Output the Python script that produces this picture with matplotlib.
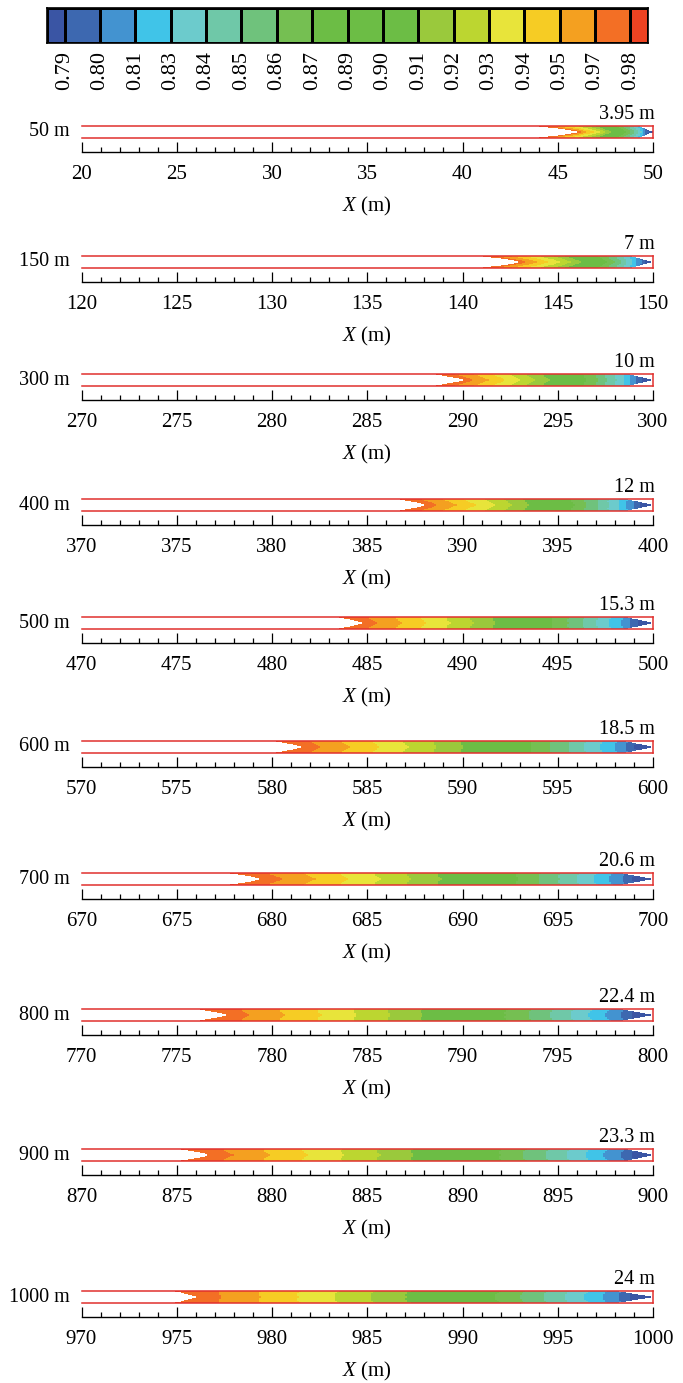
import numpy as np
import matplotlib
matplotlib.use("Agg")
import matplotlib.pyplot as plt
from matplotlib.colors import ListedColormap, BoundaryNorm
from matplotlib.ticker import MultipleLocator

plt.rcParams['font.family'] = ['Liberation Serif', 'DejaVu Serif']
plt.rcParams['mathtext.fontset'] = 'custom'
plt.rcParams['mathtext.rm'] = 'Liberation Serif'
plt.rcParams['mathtext.it'] = 'Liberation Serif:italic'

W, H = 683, 1383

# contour legend
level_labels = ["0.79", "0.80", "0.81", "0.83", "0.84", "0.85", "0.86", "0.87", "0.89",
                "0.90", "0.91", "0.92", "0.93", "0.94", "0.95", "0.97", "0.98"]
level_colors = ["#3a55a4", "#3d68b0", "#4393d0", "#40c4e8", "#6ccbcc", "#6fc8a8",
                "#6fc27c", "#75bf52", "#6cbd45", "#6cbd45", "#6cbd45", "#9ac93c",
                "#bcd630", "#e8e43a", "#f6cc24", "#f4a020", "#f36f25", "#ee4322"]
levels = np.linspace(0.79, 0.98, len(level_labels))

# runs: well depth, front length from the bottom, how far the front leads
# along the walls and the length of the tapered tip at the bottom
depths = [50, 150, 300, 400, 500, 600, 700, 800, 900, 1000]
front_len = [3.95, 7, 10, 12, 15.3, 18.5, 20.6, 22.4, 23.3, 24]
wall_lead = [2.3, 2.2, 1.6, 1.5, 1.3, 1.5, 1.8, 1.6, 1.7, 1.2]
tip_len = [0.8, 1.2, 1.4, 1.5, 1.5, 1.6, 1.8, 1.8, 1.5, 2.0]
window = 30

# vertical centre of each channel strip (pixels from the top)
centers_px = [132, 262, 380, 505, 623, 747, 879, 1015, 1155, 1297]

cmap = ListedColormap(level_colors[1:-1])
cmap.set_under(level_colors[0])
cmap.set_over(level_colors[-1])
norm = BoundaryNorm(levels, cmap.N)


def field(xc, eta, depth, length, lead, tip):
    front = depth - length - lead * np.abs(eta) ** 1.4
    s = np.clip((xc - front) / (depth - front), 0, 1)
    v = 0.982 - 0.14 * s - 0.06 * s ** 4 - 0.006 * (1 - eta ** 2)
    dist = depth - xc
    inside = xc >= front
    taper = np.where(dist < tip, dist / tip, 1.0)
    inside &= np.abs(eta) <= taper + 0.04
    v = np.where(dist < tip, v - 0.012 * (1 - dist / tip), v)
    return np.ma.masked_where(~inside, v)


fig = plt.figure(figsize=(W / 100, H / 100), dpi=100)

# colour legend strip
cax = fig.add_axes([47 / W, 1 - 43 / H, 601 / W, 35 / H])
edges = np.concatenate([[-0.5], np.arange(len(level_labels)), [len(level_labels) - 0.5]])
cax.pcolormesh(edges, [0, 1], np.arange(len(level_colors))[None, :],
               cmap=ListedColormap(level_colors), vmin=-0.5, vmax=len(level_colors) - 0.5,
               edgecolors='k', linewidth=0.8)
cax.set_xlim(edges[0], edges[-1])
cax.set_ylim(0, 1)
cax.set_yticks([])
cax.set_xticks(np.arange(len(level_labels)))
cax.set_xticklabels(level_labels, rotation=90, fontsize=16)
cax.tick_params(axis='x', length=0, pad=6)
for sp in cax.spines.values():
    sp.set_linewidth(1.2)

left = 81.5 / W
width = 571.5 / W
half = 6.3

for d, L, lead, tip, c in zip(depths, front_len, wall_lead, tip_len, centers_px):
    top = c - half
    bottom = c + 20
    ax = fig.add_axes([left, 1 - bottom / H, width, (bottom - top) / H])
    x0 = d - window
    xe = np.linspace(x0, d, 301)
    ye = np.linspace(-1, 1, 13)
    xc = 0.5 * (xe[1:] + xe[:-1])
    yc = 0.5 * (ye[1:] + ye[:-1])
    X, Y = np.meshgrid(xc, yc)
    ax.pcolormesh(xe, ye, field(X, Y, d, L, lead, tip), cmap=cmap, norm=norm)

    red = "#e0302e"
    ax.plot([x0, d], [1, 1], color=red, lw=1.1, clip_on=False)
    ax.plot([x0, d], [-1, -1], color=red, lw=1.1, clip_on=False)
    ax.plot([d, d], [-1, 1], color=red, lw=1.1, clip_on=False)

    ax.set_xlim(x0, d)
    ax.set_ylim(-20 / half, 1)
    for name in ('top', 'left', 'right'):
        ax.spines[name].set_visible(False)
    ax.spines['bottom'].set_linewidth(1.0)
    ax.set_yticks([])
    ax.set_xticks(np.arange(x0, d + 1, 5))
    ax.xaxis.set_minor_locator(MultipleLocator(1))
    ax.tick_params(axis='x', which='major', direction='in', length=7.5, width=0.9,
                   labelsize=15, pad=9.5)
    ax.tick_params(axis='x', which='minor', direction='in', length=3.8, width=0.9)
    ax.set_xlabel("$X$ (m)", fontsize=15, labelpad=8)

    fig.text(70 / W, 1 - c / H, f"{d} m", ha='right', va='center', fontsize=14.5)
    fig.text(655 / W, 1 - (c - half - 2) / H, f"{L:g} m", ha='right', va='bottom',
             fontsize=14.5)

fig.savefig("out.png", dpi=100)
